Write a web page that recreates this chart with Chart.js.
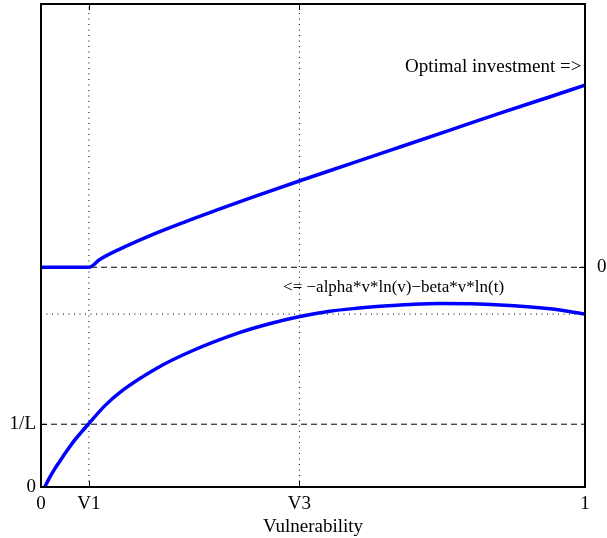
<!DOCTYPE html>
<html>
<head>
<meta charset="utf-8">
<script src="https://cdn.jsdelivr.net/npm/chart.js@4.4.0/dist/chart.umd.min.js"></script>
<style>
  html, body { margin: 0; padding: 0; background: #fff; }
  #wrap { width: 607px; height: 538px; }
</style>
</head>
<body>
<div id="wrap"><canvas id="chart"></canvas></div>
<script>
// marked vulnerabilities on the x axis
var V1 = 0.088;
var V3 = 0.475;
var xTickValues = [0, V1, V3, 1];
var xTickLabels = ['0', 'V1', 'V3', '1'];

// reference levels, as a fraction of the y range
var oneOverL = 0.130;
var zeroLevel = 0.455;
var dottedLevel = 0.358;
var leftTickValues = [0, oneOverL];
var leftTickLabels = ['0', '1/L'];
var rightTickValues = [zeroLevel];
var rightTickLabels = ['0'];

// optimal investment curve
var investV = [0, 0.088, 0.108, 0.142, 0.204, 0.265, 0.320, 0.384, 0.476, 0.568, 0.660, 0.752, 0.844, 0.936, 1.0];
var investY = [0.455, 0.455, 0.471, 0.491, 0.522, 0.549, 0.572, 0.598, 0.634, 0.669, 0.704, 0.739, 0.774, 0.808, 0.832];

// -alpha*v*ln(v)-beta*v*ln(t)
var benefitV = [0.007, 0.015, 0.025, 0.035, 0.047, 0.059, 0.073, 0.087, 0.118, 0.151, 0.213, 0.274, 0.366, 0.420, 0.476, 0.531, 0.580, 0.623, 0.680, 0.733, 0.844, 0.936, 1.0];
var benefitY = [0.0, 0.018, 0.037, 0.054, 0.074, 0.093, 0.112, 0.130, 0.169, 0.201, 0.246, 0.280, 0.320, 0.338, 0.353, 0.364, 0.370, 0.374, 0.378, 0.380, 0.377, 0.369, 0.358];

var serif = '"Liberation Serif", "Times New Roman", serif';

function pts(xs, ys) {
  return xs.map(function(x, i) { return { x: x, y: ys[i] }; });
}
function hLine(level) {
  return [{ x: 0, y: level }, { x: 1, y: level }];
}
function vLine(v) {
  return [{ x: v, y: 0 }, { x: v, y: 1 }];
}

var curveStyle = { borderColor: '#0000ff', borderWidth: 3.5, pointRadius: 0, fill: false, cubicInterpolationMode: 'monotone' };
var dashStyle = { borderColor: '#000', borderWidth: 1, pointRadius: 0, fill: false, borderDash: [6, 4] };
var dotStyle = { borderColor: '#000', borderWidth: 1, pointRadius: 0, fill: false, borderDash: [1, 4.5] };

var datasets = [
  Object.assign({ label: 'investment', data: pts(investV, investY) }, curveStyle),
  Object.assign({ label: 'benefit', data: pts(benefitV, benefitY) }, curveStyle),
  Object.assign({ label: 'zero', data: hLine(zeroLevel) }, dashStyle),
  Object.assign({ label: '1/L', data: hLine(oneOverL) }, dashStyle),
  Object.assign({ label: 'max', data: hLine(dottedLevel) }, dotStyle),
  Object.assign({ label: 'V1', data: vLine(V1) }, dotStyle),
  Object.assign({ label: 'V3', data: vLine(V3) }, dotStyle)
];

function labelFor(values, labels) {
  return function(value) {
    for (var i = 0; i < values.length; i++) {
      if (Math.abs(values[i] - value) < 1e-6) return labels[i];
    }
    return '';
  };
}
function setTicks(values) {
  return function(scale) {
    scale.ticks = values.map(function(v) { return { value: v }; });
  };
}
// fixed axis sizes, no extra room for the labels
function fixSize(w, h) {
  return function(scale) {
    if (w != null) scale.width = w;
    if (h != null) scale.height = h;
    scale.paddingTop = 0; scale.paddingBottom = 0;
    scale.paddingLeft = 0; scale.paddingRight = 0;
  };
}

// box round the plot, inward tick marks and the two notes
var frameAndNotes = {
  id: 'frameAndNotes',
  afterDatasetsDraw: function(chart) {
    var ctx = chart.ctx, a = chart.chartArea;
    var sx = chart.scales.x, sy = chart.scales.y, sy2 = chart.scales.y2;
    var t = 6;
    ctx.save();
    ctx.strokeStyle = '#000';
    ctx.lineWidth = 1;
    ctx.beginPath();
    xTickValues.forEach(function(v) {
      var px = Math.round(sx.getPixelForValue(v)) + 0.5;
      ctx.moveTo(px, a.bottom); ctx.lineTo(px, a.bottom - t);
      ctx.moveTo(px, a.top); ctx.lineTo(px, a.top + t);
    });
    leftTickValues.forEach(function(v) {
      var py = Math.round(sy.getPixelForValue(v)) + 0.5;
      ctx.moveTo(a.left, py); ctx.lineTo(a.left + t, py);
    });
    rightTickValues.forEach(function(v) {
      var py = Math.round(sy2.getPixelForValue(v)) + 0.5;
      ctx.moveTo(a.right, py); ctx.lineTo(a.right - t, py);
    });
    ctx.stroke();

    ctx.fillStyle = '#000';
    ctx.textBaseline = 'alphabetic';
    ctx.textAlign = 'left';
    ctx.font = '19px ' + serif;
    ctx.fillText('Optimal investment =>', sx.getPixelForValue(0.669), sy.getPixelForValue(0.859));
    ctx.font = '17px ' + serif;
    ctx.fillText('<= \u2212alpha*v*ln(v)\u2212beta*v*ln(t)', sx.getPixelForValue(0.445), sy.getPixelForValue(0.404));

    ctx.lineWidth = 2;
    ctx.strokeRect(a.left, a.top, a.right - a.left, a.bottom - a.top);
    ctx.restore();
  }
};

var tickFont = { family: serif, size: 19 };

new Chart(document.getElementById('chart'), {
  type: 'line',
  data: { datasets: datasets },
  options: {
    responsive: true,
    maintainAspectRatio: false,
    animation: false,
    devicePixelRatio: 1,
    layout: { padding: { top: 4, left: 0, right: 0, bottom: 0 } },
    plugins: { legend: { display: false }, tooltip: { enabled: false } },
    scales: {
      x: {
        type: 'linear', min: 0, max: 1,
        grid: { display: false, drawTicks: false },
        border: { display: false },
        afterBuildTicks: setTicks(xTickValues),
        afterFit: fixSize(null, 51),
        ticks: { color: '#000', font: tickFont, padding: 6, maxRotation: 0, autoSkip: false,
                 callback: labelFor(xTickValues, xTickLabels) },
        title: { display: true, text: 'Vulnerability', color: '#000', font: tickFont, padding: { top: 0, bottom: 0 } }
      },
      y: {
        type: 'linear', position: 'left', min: 0, max: 1,
        grid: { display: false, drawTicks: false },
        border: { display: false },
        afterBuildTicks: setTicks(leftTickValues),
        afterFit: fixSize(41, null),
        ticks: { color: '#000', font: tickFont, padding: 5, autoSkip: false,
                 callback: labelFor(leftTickValues, leftTickLabels) }
      },
      y2: {
        type: 'linear', position: 'right', min: 0, max: 1,
        grid: { display: false, drawTicks: false },
        border: { display: false },
        afterBuildTicks: setTicks(rightTickValues),
        afterFit: fixSize(22, null),
        ticks: { color: '#000', font: tickFont, padding: 12, autoSkip: false,
                 callback: labelFor(rightTickValues, rightTickLabels) }
      }
    }
  },
  plugins: [frameAndNotes]
});
</script>
</body>
</html>
